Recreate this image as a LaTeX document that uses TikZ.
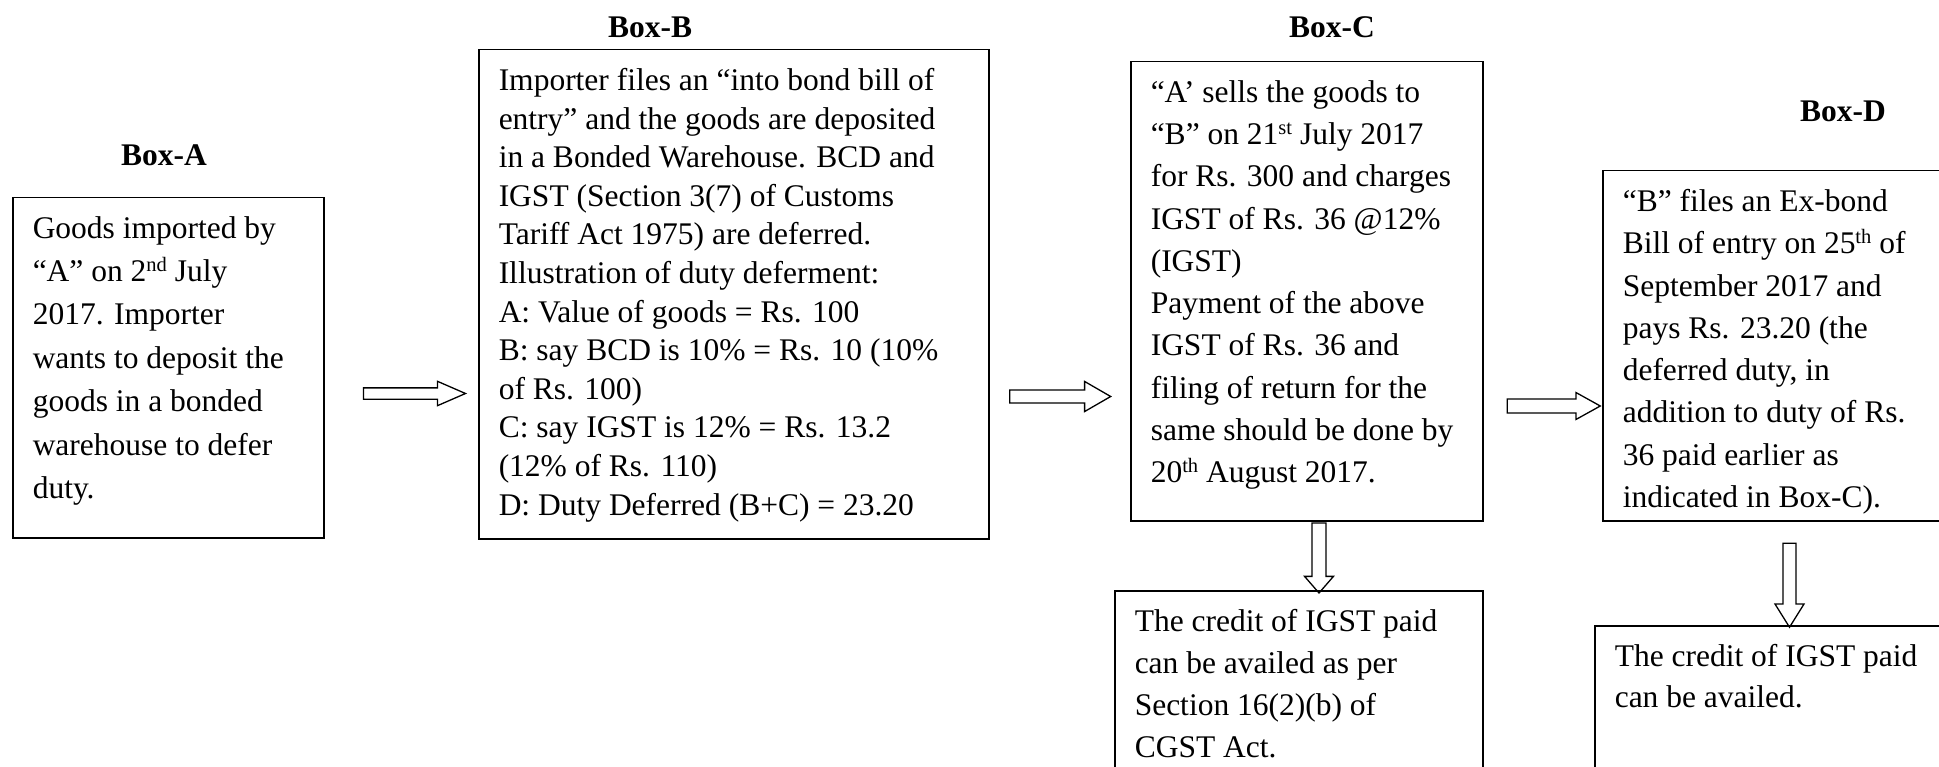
\documentclass[tikz,border=0pt]{standalone}
\usepackage{fontspec}
\setmainfont{Liberation Serif}
\usetikzlibrary{shapes.arrows}

\tikzset{
    flowbox/.style={draw, line width=1.5pt, anchor=north west, inner xsep=20pt, inner ysep=18.5pt},
    boxtitle/.style={font=\fontsize{31.5}{38}\selectfont\bfseries},
    blockarrow/.style={single arrow, draw, line width=1.3pt, inner xsep=0pt, single arrow head indent=0pt}
}
% fixed size text block, lines set by hand
\newcommand{\boxbody}[4]{\parbox[t][#1][t]{#2}{\fontsize{31.5}{#3}\selectfont\raggedright #4}}
\newcommand{\ordsup}[1]{\raisebox{0.33em}{\fontsize{20.5}{20.5}\selectfont #1}}

\begin{document}
\begin{tikzpicture}[x=1pt, y=-1pt]
        \clip (0,0) rectangle (1939,767);
        % Titles
        \node[boxtitle] (titleA) at (164,155) {Box-A};
        \node[boxtitle] (titleB) at (650,27) {Box-B};
        \node[boxtitle] (titleC) at (1332,27) {Box-C};
        \node[boxtitle] (titleD) at (1843,111) {Box-D};
        % Main boxes
        \node[flowbox] (boxA) at (12,197) {\boxbody{303pt}{271pt}{43.4pt}{Goods imported by\\
            “A” on 2\ordsup{nd} July\\ 2017. Importer\\ wants to deposit the\\ goods in a bonded\\
            warehouse to defer\\ duty.}};
        \node[flowbox] (boxB) at (478,49) {\boxbody{452pt}{470pt}{38.6pt}{Importer files an “into bond bill of\\
            entry” and the goods are deposited\\ in a Bonded Warehouse. BCD and\\
            IGST (Section 3(7) of Customs\\ Tariff Act 1975) are deferred.\\
            Illustration of duty deferment:\\ A: Value of goods = Rs. 100\\
            B: say BCD is 10\% = Rs. 10 (10\%\\ of Rs. 100)\\ C: say IGST is 12\% = Rs. 13.2\\
            (12\% of Rs. 110)\\ D: Duty Deferred (B+C) = 23.20}};
        \node[flowbox] (boxC) at (1130,61) {\boxbody{422pt}{312pt}{42.3pt}{“A’ sells the goods to\\
            “B” on 21\ordsup{st} July 2017\\ for Rs. 300 and charges\\ IGST of Rs. 36 @12\%\\ (IGST)\\
            Payment of the above\\ IGST of Rs. 36 and\\ filing of return for the\\
            same should be done by\\ 20\ordsup{th} August 2017.}};
        \node[flowbox] (boxD) at (1602,170) {\boxbody{313pt}{360pt}{42.3pt}{“B” files an Ex-bond\\
            Bill of entry on 25\ordsup{th} of\\ September 2017 and\\ pays Rs. 23.20 (the\\
            deferred duty, in\\ addition to duty of Rs.\\ 36 paid earlier as\\ indicated in Box-C).}};
        % Credit boxes
        \node[flowbox] (creditC) at (1114,590) {\boxbody{163pt}{328pt}{42pt}{The credit of IGST paid\\
            can be availed as per\\ Section 16(2)(b) of\\ CGST Act.}};
        \node[flowbox] (creditD) at (1594,625) {\boxbody{163pt}{360pt}{41pt}{The credit of IGST paid\\
            can be availed.}};
        % Block arrows
        \node[blockarrow, minimum height=102pt, inner ysep=5pt, single arrow head extend=6.5pt,
            single arrow tip angle=47] (arrAB) at (408,393.5) {};
        \node[blockarrow, minimum height=101pt, inner ysep=5.9pt, single arrow head extend=8.5pt,
            single arrow tip angle=60] (arrBC) at (1054.5,396.5) {};
        \node[blockarrow, minimum height=93pt, inner ysep=6.3pt, single arrow head extend=6.5pt,
            single arrow tip angle=58] (arrCD) at (1547.5,406) {};
        \node[blockarrow, rotate=-90, minimum height=70pt, inner ysep=6.3pt, single arrow head extend=7.5pt,
            single arrow tip angle=82] (arrC) at (1319,554) {};
        \node[blockarrow, rotate=-90, minimum height=84pt, inner ysep=5.9pt, single arrow head extend=8pt,
            single arrow tip angle=64] (arrD) at (1789.5,580) {};
\end{tikzpicture}
\end{document}
